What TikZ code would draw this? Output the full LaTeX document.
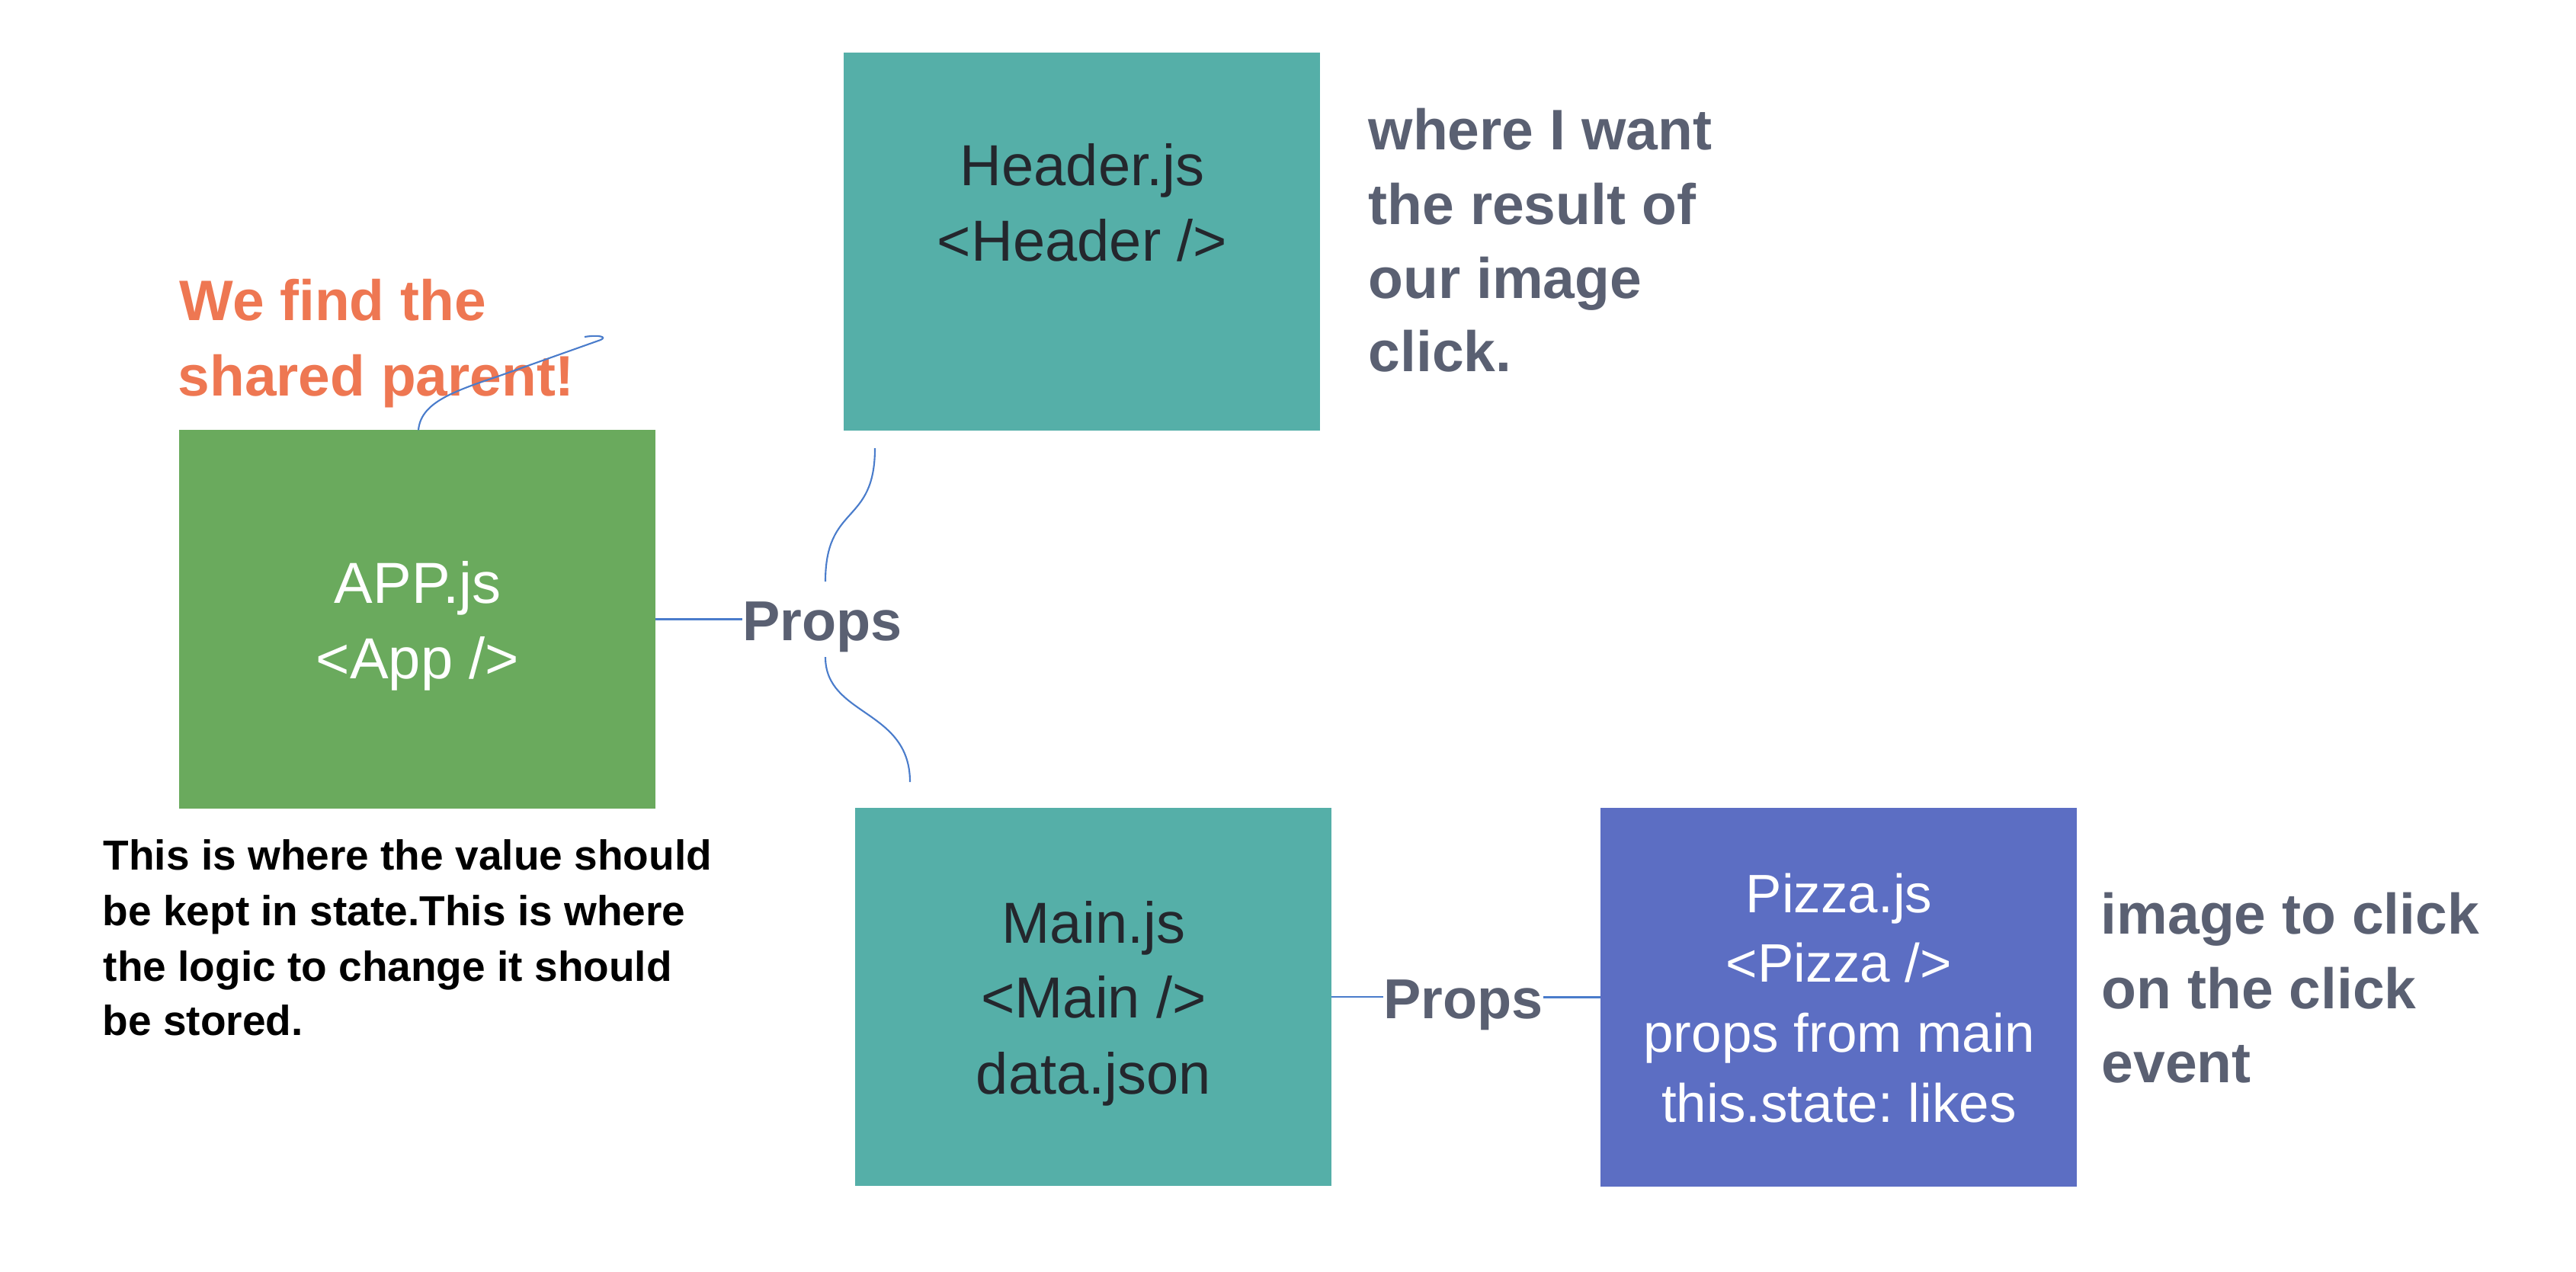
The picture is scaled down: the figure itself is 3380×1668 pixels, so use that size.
\documentclass[tikz,border=0pt]{standalone}
\usepackage{fontspec}
\setmainfont{Liberation Sans}
\frenchspacing
\definecolor{tealbox}{HTML}{55AFA8}
\definecolor{greenbox}{HTML}{6AAA5D}
\definecolor{bluebox}{HTML}{5C6EC3}
\definecolor{orangetxt}{HTML}{EE7752}
\definecolor{graytxt}{HTML}{5A6072}
\definecolor{darktxt}{HTML}{24272D}
\definecolor{linkblue}{HTML}{4A7CCB}
\begin{document}
\begin{tikzpicture}[x=0.01cm,y=-0.01cm,
  compbox/.style={draw=none,inner sep=0,outer sep=0,minimum width=6.24cm,minimum height=4.96cm},
  boxtxt/.style={font=\fontsize{21.6pt}{26pt}\selectfont,inner sep=0,anchor=base},
  pizzatxt/.style={font=\fontsize{20.2pt}{24pt}\selectfont,inner sep=0,anchor=base,text=white},
  notegray/.style={font=\bfseries\fontsize{21.34pt}{26pt}\selectfont,inner sep=0,anchor=base west,text=graytxt},
  noteorange/.style={font=\bfseries\fontsize{21.3pt}{26pt}\selectfont,inner sep=0,anchor=base west,text=orangetxt},
  noteblack/.style={font=\bfseries\fontsize{15.65pt}{19pt}\selectfont,inner sep=0,anchor=base west,text=black},
  propslbl/.style={font=\bfseries\fontsize{21pt}{25pt}\selectfont,inner sep=0,anchor=base west,text=graytxt},
  link/.style={draw=linkblue,line width=0.6pt}]
\useasboundingbox (0,0) rectangle (3380,1668);

% boxes
\node[compbox,fill=tealbox] (header) at (1419.5,317) {};
\node[compbox,fill=greenbox] (app) at (547.5,812.5) {};
\node[compbox,fill=tealbox] (main) at (1434.5,1308) {};
\node[compbox,fill=bluebox] (pizza) at (2412.5,1308.5) {};

% box texts
\node[boxtxt,text=darktxt] (h1) at (1420,243) {Header.js};
\node[boxtxt,text=darktxt] (h2) at (1420,342) {<Header />};
\node[boxtxt,text=white] (a1) at (548,791) {APP.js};
\node[boxtxt,text=white] (a2) at (548,890) {<App />};
\node[boxtxt,text=darktxt] (m1) at (1435,1237) {Main.js};
\node[boxtxt,text=darktxt] (m2) at (1435,1335) {<Main />};
\node[boxtxt,text=darktxt] (m3) at (1435,1435) {data.json};
\node[pizzatxt] (p1) at (2413,1197) {Pizza.js};
\node[pizzatxt] (p2) at (2413,1288.5) {<Pizza />};
\node[pizzatxt] (p3) at (2413,1380) {props from main};
\node[pizzatxt] (p4) at (2413,1472) {this.state: likes};

% notes
\node[noteorange] (o1) at (235,420) {We find the};
\node[noteorange] (o2) at (233,519) {shared parent!};
\node[notegray] (w1) at (1795,196) {where I want};
\node[notegray] (w2) at (1795,294) {the result of};
\node[notegray] (w3) at (1795,391) {our image};
\node[notegray] (w4) at (1795,487) {click.};
\node[notegray] (i1) at (2756,1225) {image to click};
\node[notegray] (i2) at (2757,1323) {on the click};
\node[notegray] (i3) at (2757,1420) {event};
\node[noteblack] (t1) at (135,1141) {This is where the value should};
\node[noteblack] (t2) at (134,1214) {be kept in state.This is where};
\node[noteblack] (t3) at (135,1287) {the logic to change it should};
\node[noteblack] (t4) at (134,1358) {be stored.};

% props labels
\node[propslbl] (propsA) at (973.5,840) {Props};
\node[propslbl] (propsB) at (1814.5,1336) {Props};

% connectors
\draw[link] (app.east) -- (app.east -| propsA.west);
\draw[link] (main.east) -- (main.east -| propsB.west);
\draw[link] (propsB.east |- pizza.west) -- (pizza.west);

\coordinate (u1) at (1148,588);
\coordinate (u2) at (1083,763);
\coordinate (l1) at (1083,862);
\coordinate (l2) at (1194,1026);
\draw[link] (u1) .. controls (1148,690) and (1083,660) .. (u2);
\draw[link] (l1) .. controls (1083,940) and (1194,930) .. (l2);

\coordinate (k1) at (650,495);
\coordinate (k2) at (788,446);
\coordinate (k3) at (767,442);
\draw[link] ([xshift=0.015cm]app.north) .. controls (552,530) and (590,515) .. (k1) -- (k2) .. controls (797,442) and (786,439) .. (k3);
\end{tikzpicture}
\end{document}
